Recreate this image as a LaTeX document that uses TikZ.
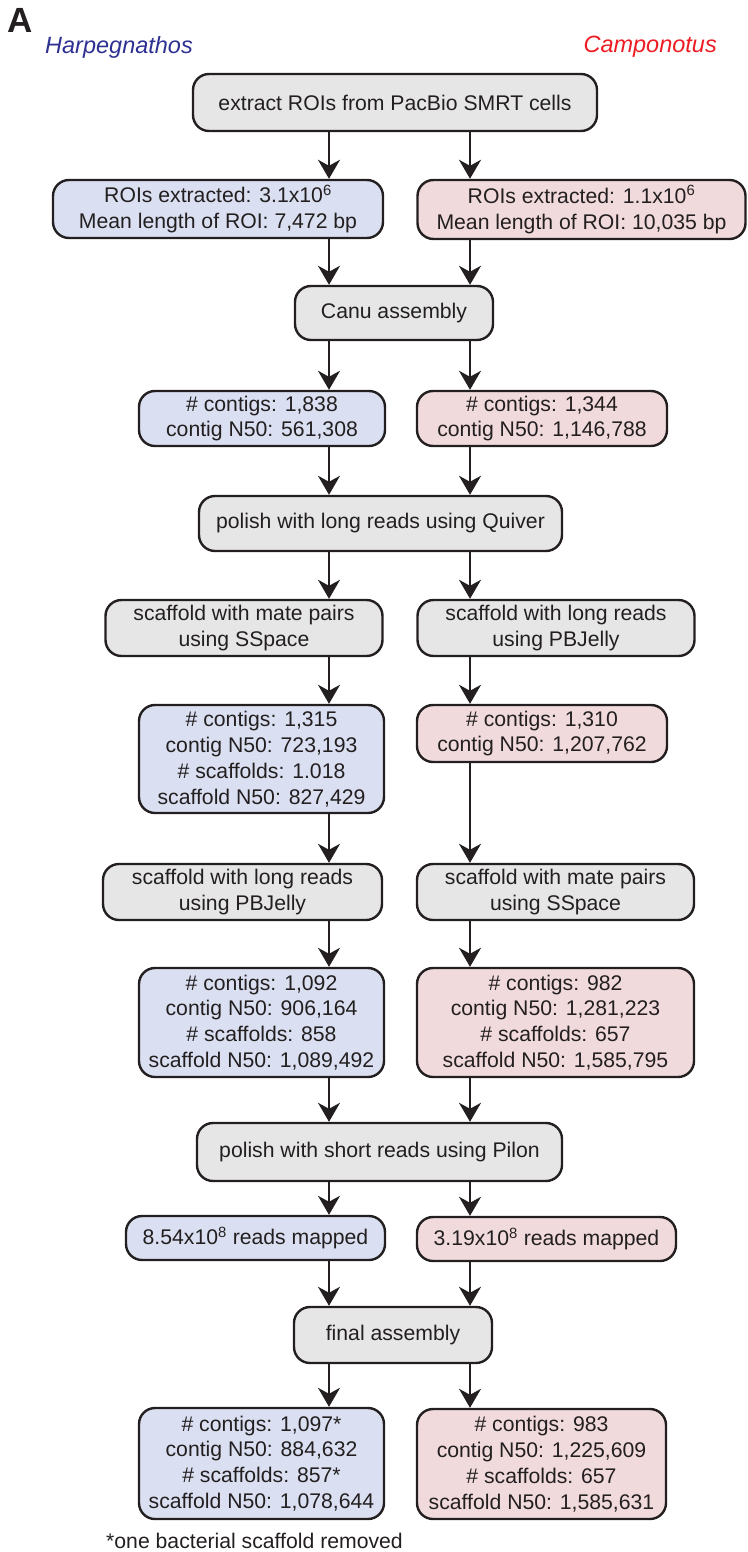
\documentclass[tikz,border=0pt]{standalone}
\usepackage{fontspec}
\setmainfont{Liberation Sans}
\usetikzlibrary{arrows.meta}
\definecolor{ink}{HTML}{231F20}
\definecolor{boxgray}{HTML}{E6E6E6}
\definecolor{boxblue}{HTML}{DAE0F1}
\definecolor{boxpink}{HTML}{F1DADC}
\definecolor{hblue}{HTML}{2E3192}
\definecolor{cred}{HTML}{ED1C24}
\begin{document}
\begin{tikzpicture}[x=1pt,y=-1pt,
  box/.style={draw=ink, line width=2.4pt, rounded corners=16pt, align=center,
    inner sep=0pt, font=\fontsize{21.2}{25.8}\selectfont, text=ink},
  gbox/.style={box, fill=boxgray},
  bbox/.style={box, fill=boxblue},
  pbox/.style={box, fill=boxpink},
  arr/.style={draw=ink, line width=2.4pt, -{Stealth[length=19pt,width=22pt,inset=6pt]}},
  wh/.style 2 args={minimum width=#1pt, minimum height=#2pt}]
\useasboundingbox (0,0) rectangle (747,1552);
\coordinate (cL) at (329,0);
\coordinate (cR) at (470,0);

\node[anchor=base west, inner sep=0pt, font=\fontsize{35}{36}\selectfont\bfseries, text=ink] (lblA) at (7,33) {A};
\node[anchor=base west, font=\fontsize{23.5}{26}\selectfont\itshape, text=hblue, inner sep=0pt] (lblH) at (45,54) {Harpegnathos};
\node[anchor=base east, font=\fontsize{23.5}{26}\selectfont\itshape, text=cred, inner sep=0pt] (lblC) at (717,53) {Camponotus};

\node[gbox, wh={404}{57}] (top) at (395,102.5) {extract ROIs from PacBio SMRT cells};
\node[bbox, wh={330}{58}] (roiL) at (218,209) {ROIs extracted: 3.1x10\textsuperscript{6}\\Mean length of ROI: 7,472 bp};
\node[pbox, wh={328}{59}] (roiR) at (581.5,209.5) {ROIs extracted: 1.1x10\textsuperscript{6}\\Mean length of ROI: 10,035 bp};
\node[gbox, wh={198}{54}] (canu) at (394,313) {Canu assembly};
\node[bbox, wh={246}{55}] (ctgL) at (262,418.5) {\# contigs: 1,838\\contig N50: 561,308};
\node[pbox, wh={250}{55}] (ctgR) at (542,418.5) {\# contigs: 1,344\\contig N50: 1,146,788};
\node[gbox, wh={363}{55}] (quiver) at (380.5,523.5) {polish with long reads using Quiver};
\node[gbox, wh={277}{56}] (ssL) at (244,628) {scaffold with mate pairs\\using SSpace};
\node[gbox, wh={277}{56}] (pbR) at (556,628) {scaffold with long reads\\using PBJelly};
\node[bbox, wh={245}{108}] (st1L) at (261.5,759) {\# contigs: 1,315\\contig N50: 723,193\\\# scaffolds: 1.018\\scaffold N50: 827,429};
\node[pbox, wh={250}{57}] (st1R) at (542,733.5) {\# contigs: 1,310\\contig N50: 1,207,762};
\node[gbox, wh={279}{56}] (pbL) at (242.5,892) {scaffold with long reads\\using PBJelly};
\node[gbox, wh={277}{56}] (ssR) at (555.5,892) {scaffold with mate pairs\\using SSpace};
\node[bbox, wh={245}{109}] (st2L) at (261.5,1022.5) {\# contigs: 1,092\\contig N50: 906,164\\\# scaffolds: 858\\scaffold N50: 1,089,492};
\node[pbox, wh={277}{109}] (st2R) at (555.5,1022.5) {\# contigs: 982\\contig N50: 1,281,223\\\# scaffolds: 657\\scaffold N50: 1,585,795};
\node[gbox, wh={365}{58}] (pilon) at (379.5,1152) {polish with short reads using Pilon};
\node[bbox, wh={259}{44}] (mapL) at (255.5,1238) {8.54x10\textsuperscript{8} reads mapped};
\node[pbox, wh={259}{44}] (mapR) at (546.5,1239) {3.19x10\textsuperscript{8} reads mapped};
\node[gbox, wh={198}{56}] (final) at (393,1335) {final assembly};
\node[bbox, wh={245}{111}] (finL) at (261.5,1463.5) {\# contigs: 1,097*\\contig N50: 884,632\\\# scaffolds: 857*\\scaffold N50: 1,078,644};
\node[pbox, wh={249}{110}] (finR) at (541.5,1464) {\# contigs: 983\\contig N50: 1,225,609\\\# scaffolds: 657\\scaffold N50: 1,585,631};

\node[anchor=base west, inner sep=0pt, font=\fontsize{21.2}{25.8}\selectfont, text=ink] (foot) at (106,1548) {*one bacterial scaffold removed};

\foreach \a/\b in {top/roiL, roiL/canu, canu/ctgL, ctgL/quiver, quiver/ssL, ssL/st1L, st1L/pbL, pbL/st2L, st2L/pilon, pilon/mapL, mapL/final, final/finL}
  \draw[arr] (\a.south -| cL) -- (\b.north -| cL);
\foreach \a/\b in {top/roiR, roiR/canu, canu/ctgR, ctgR/quiver, quiver/pbR, pbR/st1R, st1R/ssR, ssR/st2R, st2R/pilon, pilon/mapR, mapR/final, final/finR}
  \draw[arr] (\a.south -| cR) -- (\b.north -| cR);
\end{tikzpicture}
\end{document}
